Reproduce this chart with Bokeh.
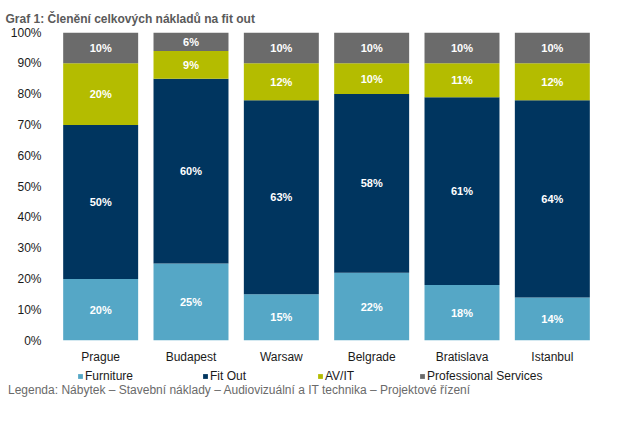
from bokeh.plotting import figure
from bokeh.models import ColumnDataSource, Range1d, FactorRange, PrintfTickFormatter, Legend, LegendItem, LabelSet, Title, Div
from bokeh.layouts import column
from bokeh.core.properties import value
from bokeh.embed import file_html
from bokeh.resources import INLINE

cities = ["Prague", "Budapest", "Warsaw", "Belgrade", "Bratislava", "Istanbul"]
furniture = [20, 25, 15, 22, 18, 14]
fit_out = [50, 60, 63, 58, 61, 64]
av_it = [20, 9, 12, 10, 11, 12]
prof_services = [10, 6, 10, 10, 10, 10]
series_names = ["Furniture", "Fit Out", "AV/IT", "Professional Services"]
series_keys = ["furniture", "fit_out", "av_it", "prof_services"]
colors = ["#55A7C6", "#00355F", "#B4BC00", "#6B6B6B"]
y_ticks = [0, 10, 20, 30, 40, 50, 60, 70, 80, 90, 100]
title_text = "Graf 1: Členění celkových nákladů na fit out"
footer_text = "Legenda: Nábytek – Stavební náklady – Audiovizuální a IT technika – Projektové řízení"

FONT = "Liberation Sans"

data = dict(city=cities, furniture=furniture, fit_out=fit_out, av_it=av_it, prof_services=prof_services)
source = ColumnDataSource(data)

p = figure(x_range=FactorRange(factors=cities, range_padding=0), y_range=Range1d(0, 100),
           width=633, height=368, output_backend="svg", toolbar_location=None,
           min_border_left=55, min_border_right=36, min_border_top=32, min_border_bottom=28)
p.outline_line_color = None
p.grid.grid_line_color = None

p.vbar_stack(series_keys, x="city", width=0.83, color=colors, source=source, line_color=None)

# segment labels
lab_x, lab_y, lab_t = [], [], []
for i, c in enumerate(cities):
    base = 0
    for vals in (furniture, fit_out, av_it, prof_services):
        v = vals[i]
        lab_x.append(c)
        lab_y.append(base + v / 2)
        lab_t.append(f"{v}%")
        base += v
lsrc = ColumnDataSource(dict(x=lab_x, y=lab_y, t=lab_t))
labels = LabelSet(x="x", y="y", text="t", source=lsrc, text_align="center", text_baseline="middle",
                  text_color="white", text_font=value(FONT), text_font_style="bold", text_font_size="11px")
p.add_layout(labels)

# axes
p.yaxis.ticker = y_ticks
p.yaxis.formatter = PrintfTickFormatter(format="%d%%")
p.yaxis.axis_line_color = None
p.yaxis.major_tick_line_color = None
p.yaxis.minor_tick_line_color = None
p.yaxis.major_tick_out = 0
p.yaxis.major_tick_in = 0
p.yaxis.major_label_text_font = FONT
p.yaxis.major_label_text_font_size = "12px"
p.yaxis.major_label_text_color = "#1A1A1A"
p.yaxis.major_label_standoff = 14

p.xaxis.axis_line_color = None
p.xaxis.major_tick_line_color = None
p.xaxis.minor_tick_line_color = None
p.xaxis.major_tick_out = 0
p.xaxis.major_tick_in = 0
p.xaxis.major_label_text_font = FONT
p.xaxis.major_label_text_font_size = "12px"
p.xaxis.major_label_text_color = "#1A1A1A"
p.xaxis.major_label_standoff = 9

p.title = Title(text=title_text, align="left", offset=-50, standoff=13, text_font=FONT,
                text_font_size="12px", text_font_style="bold", text_color="#5A5A5A")

# legend strip (swatches come from zero-height stand-in bars, one per series)
p2 = figure(width=633, height=16, output_backend="svg", toolbar_location=None,
            x_range=Range1d(0, 1), y_range=Range1d(0, 1), x_axis_type=None, y_axis_type=None,
            min_border=0, min_border_left=0, min_border_right=0, min_border_top=0, min_border_bottom=0)
p2.outline_line_color = None
p2.grid.grid_line_color = None
swatches = [p2.vbar(x=[0.5], top=[0], bottom=[0], width=0.0, color=c, line_color=None) for c in colors]
legend_x = [22, 147, 262, 364]
for n, r, lx in zip(series_names, swatches, legend_x):
    lg = Legend(items=[LegendItem(label=n, renderers=[r])],
                orientation="horizontal", location=(lx, 1), border_line_color=None,
                background_fill_alpha=0, glyph_width=6, glyph_height=6, label_standoff=2,
                label_height=14, spacing=0, padding=0, margin=0,
                label_text_font=FONT, label_text_font_size="12px", label_text_color="#1A1A1A")
    p2.add_layout(lg, "center")

footer = Div(text=footer_text, width=633, height=43, margin=0,
             styles={"font-family": FONT, "font-size": "12px", "color": "#6A6A6A",
                     "line-height": "12px", "padding-left": "8px", "white-space": "nowrap"})

open("out.html", "w").write(file_html(column(p, p2, footer, spacing=0), INLINE))
